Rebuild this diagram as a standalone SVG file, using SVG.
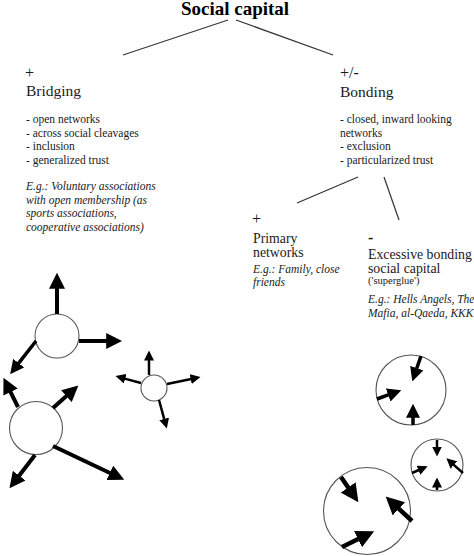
<svg xmlns="http://www.w3.org/2000/svg" width="474" height="556" viewBox="0 0 474 556">
<style>
text{font-family:"Liberation Serif","Times New Roman",serif;fill:#1a1a1a}
.title{font-size:19px;font-weight:bold;fill:#000}
.sign{font-size:16px}
.head{font-size:15.5px}
.sub{font-size:13.8px}
.body{font-size:11.5px}
.eg{font-size:11.5px;font-style:italic}
.small{font-size:10.5px}
.tree{stroke:#333;stroke-width:1.2;fill:none}
.ring{fill:#fff;stroke:#555;stroke-width:1.1}
.arr{stroke:#000;fill:none;marker-end:url(#ah)}
</style>
<defs>
<marker id="ah" viewBox="0 0 10 10" refX="0.5" refY="5" markerWidth="4" markerHeight="4" markerUnits="strokeWidth" orient="auto">
<path d="M0,0 L10,5 L0,10 z" fill="#000"/>
</marker>
</defs>
<rect width="474" height="556" fill="#fff"/>

<g id="connectors">
<line class="tree" x1="228" y1="20" x2="123" y2="55"/>
<line class="tree" x1="236" y1="20" x2="333" y2="55"/>
<line class="tree" x1="358" y1="177" x2="297" y2="203"/>
<line class="tree" x1="384" y1="177" x2="399" y2="220"/>
</g>

<g id="title"><text class="title" x="235" y="15" text-anchor="middle">Social capital</text></g>

<g id="bridging">
<text class="sign" x="25" y="78">+</text>
<text class="head" x="26" y="96">Bridging</text>
<text class="body" x="26" y="123">- open networks</text>
<text class="body" x="26" y="136.5">- across social cleavages</text>
<text class="body" x="26" y="150">- inclusion</text>
<text class="body" x="26" y="163.5">- generalized trust</text>
<text class="eg" x="26" y="190">E.g.: Voluntary associations</text>
<text class="eg" x="26" y="203.5">with open membership (as</text>
<text class="eg" x="26" y="217">sports associations,</text>
<text class="eg" x="26" y="230.5">cooperative associations)</text>
</g>

<g id="bonding">
<text class="sign" x="340" y="78">+/-</text>
<text class="head" x="340" y="97">Bonding</text>
<text class="body" x="340" y="123">- closed, inward looking</text>
<text class="body" x="340" y="136.5">networks</text>
<text class="body" x="340" y="150">- exclusion</text>
<text class="body" x="340" y="163.5">- particularized trust</text>
</g>

<g id="primary">
<text class="sign" x="252" y="224">+</text>
<text class="sub" x="253" y="243">Primary</text>
<text class="sub" x="253" y="257">networks</text>
<text class="eg" x="253" y="273">E.g.: Family, close</text>
<text class="eg" x="253" y="286">friends</text>
</g>

<g id="excessive">
<text class="sign" x="368" y="243" font-weight="bold">-</text>
<text class="sub" x="368" y="259">Excessive bonding</text>
<text class="sub" x="368" y="273">social capital</text>
<text class="small" x="368" y="284">('superglue')</text>
<text class="eg" x="368" y="303">E.g.: Hells Angels, The</text>
<text class="eg" x="368" y="317">Mafia, al-Qaeda, KKK</text>
</g>

<g id="circle-a">
<circle class="ring" cx="57" cy="336" r="22"/>
<line class="arr" stroke-width="4" x1="57" y1="314" x2="57" y2="288"/>
<line class="arr" stroke-width="4" x1="79" y1="341" x2="107" y2="341"/>
<line class="arr" stroke-width="3.5" x1="36" y1="341" x2="18.3" y2="363.7"/>
</g>

<g id="circle-b">
<circle class="ring" cx="36" cy="428" r="26.5"/>
<line class="arr" stroke-width="4" x1="18" y1="407" x2="10.2" y2="391.3"/>
<line class="arr" stroke-width="4" x1="53" y1="408" x2="67" y2="395.6"/>
<line class="arr" stroke-width="4" x1="35" y1="455" x2="18.7" y2="476.3"/>
<line class="arr" stroke-width="4" x1="53" y1="446" x2="110.5" y2="473.2"/>
</g>

<g id="circle-c">
<circle class="ring" cx="154" cy="388" r="13"/>
<line class="arr" stroke-width="2.5" x1="149" y1="375" x2="149" y2="360"/>
<line class="arr" stroke-width="2.5" x1="141" y1="383" x2="124.7" y2="378.6"/>
<line class="arr" stroke-width="2.5" x1="167" y1="384" x2="191.2" y2="379"/>
<line class="arr" stroke-width="2.5" x1="159" y1="400" x2="164.3" y2="419.4"/>
</g>

<g id="circle-d">
<circle class="ring" cx="411" cy="390" r="35"/>
<line class="arr" stroke-width="3.5" x1="421" y1="356" x2="416.6" y2="368.8"/>
<line class="arr" stroke-width="3.5" x1="377" y1="399" x2="388.8" y2="394.7"/>
<line class="arr" stroke-width="3.5" x1="413" y1="425" x2="413" y2="417"/>
</g>

<g id="circle-e">
<circle class="ring" cx="437" cy="465" r="26"/>
<line class="arr" stroke-width="2.5" x1="437" y1="440" x2="437" y2="447"/>
<line class="arr" stroke-width="2.5" x1="463" y1="473" x2="453.5" y2="464.6"/>
<line class="arr" stroke-width="2.5" x1="412" y1="473" x2="418.9" y2="470"/>
<line class="arr" stroke-width="2.5" x1="437" y1="490" x2="437" y2="487"/>
</g>

<g id="circle-f">
<circle class="ring" cx="367" cy="511" r="43.5"/>
<line class="arr" stroke-width="4.5" x1="341" y1="477" x2="348.7" y2="488.2"/>
<line class="arr" stroke-width="4.5" x1="412" y1="521" x2="398.2" y2="508.2"/>
<line class="arr" stroke-width="4.5" x1="342" y1="547" x2="358.8" y2="538.8"/>
</g>
</svg>
